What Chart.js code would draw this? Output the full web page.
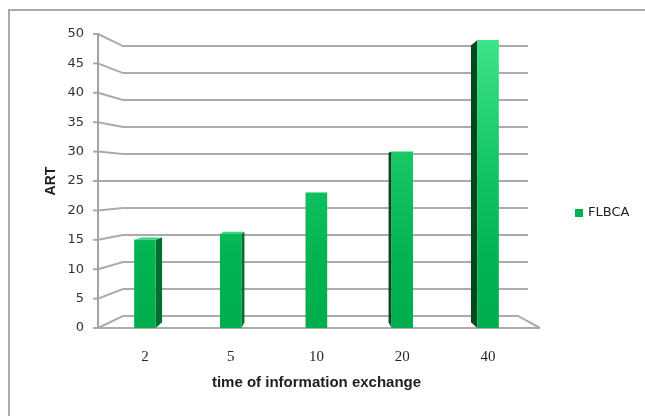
<!DOCTYPE html>
<html>
<head>
<meta charset="utf-8">
<script src="https://cdn.jsdelivr.net/npm/chart.js@4"></script>
<style>
html,body{margin:0;padding:0;background:#fff;}
#wrap{width:645px;height:416px;position:relative;}
</style>
</head>
<body>
<div id="wrap"><canvas id="c" width="645" height="416"></canvas></div>
<script>
// ---- data ----
const categories = ['2', '5', '10', '20', '40'];
const seriesName = 'FLBCA';
const artValues = [15, 16, 23, 30, 49];
const yMin = 0, yMax = 50, yStep = 5;
const xTitle = 'time of information exchange';
const yTitle = 'ART';

// ---- pseudo 3D walls / bar sides / legend / frame ----
const p3d = {
  id: 'p3d',
  beforeDatasetsDraw(chart) {
    const {ctx, chartArea: ca, scales: {x, y}} = chart;
    const frontL = ca.left - 4, backL = ca.left + 21, backR = ca.right - 3;
    const C = (ca.top + ca.bottom) / 2 + 0.5, k = 0.918;
    ctx.save();
    ctx.lineWidth = 2;
    ctx.strokeStyle = '#ababab';
    const y0 = y.getPixelForValue(yMin);
    y.ticks.forEach(t => {
      const fy = y.getPixelForValue(t.value);
      const by = C + (fy - C) * k;
      ctx.beginPath();
      ctx.moveTo(frontL, fy);
      ctx.lineTo(backL, by);
      if (t.value === yMin) {
        ctx.lineTo(ca.right - 13, by);
        ctx.lineTo(ca.right + 9, fy);
      } else {
        ctx.lineTo(backR, by);
      }
      ctx.stroke();
      ctx.beginPath();
      ctx.moveTo(frontL - 5, fy);
      ctx.lineTo(frontL, fy);
      ctx.stroke();
    });
    ctx.beginPath();
    ctx.moveTo(frontL, y0);
    ctx.lineTo(ca.right + 9, y0);
    ctx.stroke();
    ctx.strokeStyle = '#a3a3a3';
    ctx.lineWidth = 2;
    ctx.beginPath();
    ctx.moveTo(frontL, y.getPixelForValue(yMax) - 1);
    ctx.lineTo(frontL, y0);
    ctx.stroke();

    const meta = chart.getDatasetMeta(0);
    const vx = (ca.left + ca.right) / 2, ks = 0.96;
    meta.data.forEach(bar => {
      const p = bar.getProps(['x', 'y', 'base', 'width'], true);
      const l = p.x - p.width / 2, r = p.x + p.width / 2;
      const leftOfCenter = p.x < vx;
      const edge = leftOfCenter ? r : l;
      const ex = vx + (edge - vx) * ks;
      const tY = C + (p.y - C) * ks, bY = C + (p.base - C) * ks;
      ctx.fillStyle = leftOfCenter ? '#006e30' : '#024a1e';
      ctx.beginPath();
      ctx.moveTo(edge, p.y);
      ctx.lineTo(ex, tY);
      ctx.lineTo(ex, bY);
      ctx.lineTo(edge, p.base);
      ctx.closePath();
      ctx.fill();
      if (p.y > C) {
        ctx.fillStyle = '#3cd47f';
        ctx.beginPath();
        ctx.moveTo(l, p.y);
        ctx.lineTo(r, p.y);
        ctx.lineTo(vx + (r - vx) * ks, tY);
        ctx.lineTo(vx + (l - vx) * ks, tY);
        ctx.closePath();
        ctx.fill();
      }
    });
    ctx.restore();
  },
  afterDraw(chart) {
    const {ctx, chartArea: ca} = chart;
    ctx.save();
    // legend
    const lx = ca.right + 44, ly = (ca.top + ca.bottom) / 2 + 32;
    ctx.fillStyle = '#00b050';
    ctx.fillRect(lx, ly - 4, 8, 8);
    ctx.fillStyle = '#222';
    ctx.font = '13px "DejaVu Sans"';
    ctx.textBaseline = 'middle';
    ctx.textAlign = 'left';
    ctx.fillText(seriesName, lx + 13, ly);
    // frame
    ctx.strokeStyle = '#ababab';
    ctx.lineWidth = 2;
    ctx.beginPath();
    ctx.moveTo(9, chart.height);
    ctx.lineTo(9, 10);
    ctx.lineTo(chart.width, 10);
    ctx.stroke();
    ctx.restore();
  }
};

function barFill(context) {
  const chart = context.chart;
  const ca = chart.chartArea;
  if (!ca) return '#00b050';
  const g = chart.ctx.createLinearGradient(0, ca.top, 0, ca.bottom);
  g.addColorStop(0, '#40e58a');
  g.addColorStop(0.45, '#14c563');
  g.addColorStop(0.75, '#02b452');
  g.addColorStop(1, '#00ad4d');
  return g;
}

new Chart(document.getElementById('c'), {
  type: 'bar',
  data: {
    labels: categories,
    datasets: [{
      label: seriesName,
      data: artValues,
      backgroundColor: barFill,
      borderWidth: 0,
      barPercentage: 0.25,
      categoryPercentage: 1.0
    }]
  },
  options: {
    responsive: false,
    devicePixelRatio: 1,
    animation: false,
    layout: {padding: {left: 0, right: 114, top: 34, bottom: 0}},
    plugins: {
      legend: {display: false},
      tooltip: {enabled: false}
    },
    scales: {
      x: {
        type: 'category',
        grid: {display: false},
        border: {display: false},
        ticks: {
          font: {family: '"Liberation Serif"', size: 15},
          color: '#2e261a',
          padding: 12
        },
        title: {
          display: true,
          text: xTitle,
          font: {family: '"Liberation Sans"', size: 15, weight: 'bold'},
          color: '#1e1e1e',
          padding: {top: 0, bottom: 24}
        },
        afterFit(scale) { scale.height = 88; }
      },
      y: {
        min: yMin,
        max: yMax,
        grid: {display: false},
        border: {display: false},
        ticks: {
          stepSize: yStep,
          font: {family: '"DejaVu Sans"', size: 13},
          color: '#333333',
          padding: 10
        },
        title: {
          display: true,
          text: yTitle,
          font: {family: '"Liberation Sans"', size: 14, weight: 'bold'},
          color: '#1e1e1e',
          padding: {top: 43, bottom: 0}
        },
        afterFit(scale) { scale.width = 102; }
      }
    }
  },
  plugins: [p3d]
});
</script>
</body>
</html>
